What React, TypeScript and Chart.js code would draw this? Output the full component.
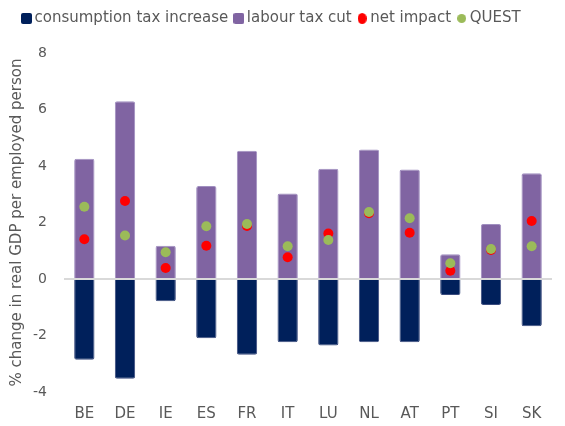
import React, { useEffect, useRef } from "react";
import { Chart, registerables } from "chart.js";

Chart.register(...registerables);

const categories = ["BE", "DE", "IE", "ES", "FR", "IT", "LU", "NL", "AT", "PT", "SI", "SK"];
const consumptionTaxIncrease = [-2.86, -3.53, -0.79, -2.1, -2.68, -2.24, -2.35, -2.24, -2.24, -0.57, -0.92, -1.67];
const labourTaxCut = [4.26, 6.29, 1.18, 3.29, 4.54, 3.03, 3.9, 4.58, 3.88, 0.88, 1.95, 3.74];
const netImpact = [1.41, 2.76, 0.39, 1.18, 1.88, 0.77, 1.61, 2.33, 1.64, 0.29, 1.03, 2.05];
const quest = [2.56, 1.54, 0.95, 1.87, 1.95, 1.16, 1.38, 2.37, 2.15, 0.56, 1.06, 1.16];
const yTicks = [-4, -2, 0, 2, 4, 6, 8];

const FONT = "'DejaVu Sans', Verdana, sans-serif";
const GRAY = "#595959";
const NAVY = "#00205B";
const PURPLE = "#8064A2";
const RED = "#FF0000";
const GREEN = "#9BBB59";

function makeSquare(color: string) {
  const c = document.createElement("canvas");
  c.width = 11;
  c.height = 11;
  const ctx = c.getContext("2d")!;
  ctx.fillStyle = color;
  ctx.beginPath();
  (ctx as any).roundRect(0, 0, 11, 11, 2);
  ctx.fill();
  return c;
}
function makeDot(color: string, w: number, h: number) {
  const c = document.createElement("canvas");
  c.width = w;
  c.height = h;
  const ctx = c.getContext("2d")!;
  ctx.fillStyle = color;
  ctx.beginPath();
  ctx.ellipse(w / 2, h / 2, w / 2, h / 2, 0, 0, Math.PI * 2);
  ctx.fill();
  return c;
}

export default function App() {
  const ref = useRef<HTMLCanvasElement | null>(null);
  useEffect(() => {
    if (!ref.current) return;
    const markers = [makeSquare(NAVY), makeSquare(PURPLE), makeDot(RED, 9, 11), makeDot(GREEN, 9, 9)];
    const legendLayout = {
      id: "legendLayout",
      beforeInit(chart: any) {
        const legend = chart.legend;
        if (legend) {
          const orig = legend.fit;
          legend.fit = function () {
            orig.call(this);
            this.height = 52;
          };
        }
      },
      afterLayout(chart: any) {
        const legend = chart.legend;
        if (legend) {
          const w = legend.right - legend.left;
          legend.left = 16;
          legend.right = 16 + w;
        }
      },
    };
    const chart = new Chart(ref.current, {
      type: "bar",
      data: {
        labels: categories,
        datasets: [
          {
            type: "bar",
            label: "consumption tax increase",
            data: consumptionTaxIncrease,
            backgroundColor: NAVY,
            borderColor: "#3A4B7E",
            borderWidth: 1,
            borderRadius: 2,
            borderSkipped: "start",
            barPercentage: 0.5,
            categoryPercentage: 1,
            order: 3,
          },
          {
            type: "bar",
            label: "labour tax cut",
            data: labourTaxCut,
            backgroundColor: PURPLE,
            borderColor: "#A08FC0",
            borderWidth: 1,
            borderRadius: 2,
            borderSkipped: "start",
            barPercentage: 0.5,
            categoryPercentage: 1,
            order: 2,
          },
          {
            type: "line",
            label: "net impact",
            data: netImpact,
            showLine: false,
            pointRadius: 5,
            pointBorderWidth: 0,
            pointBackgroundColor: RED,
            backgroundColor: RED,
            borderColor: RED,
            order: 1,
          },
          {
            type: "line",
            label: "QUEST",
            data: quest,
            showLine: false,
            pointRadius: 5,
            pointBorderWidth: 0,
            pointBackgroundColor: GREEN,
            backgroundColor: GREEN,
            borderColor: GREEN,
            order: 0,
          },
        ],
      },
      options: {
        responsive: true,
        maintainAspectRatio: false,
        animation: false,
        layout: { padding: { left: 4, right: 13, top: 1, bottom: 3 } },
        plugins: {
          tooltip: { enabled: false },
          legend: {
            position: "top",
            align: "start",
            labels: {
              color: GRAY,
              font: { family: FONT, size: 15 },
              usePointStyle: true,
              boxWidth: 1,
              boxHeight: 11,
              padding: 10,
              generateLabels: (c: any) => {
                const items = Chart.defaults.plugins.legend.labels.generateLabels(c);
                items.sort((a: any, b: any) => a.datasetIndex - b.datasetIndex);
                return items.map((it: any) => ({
                  ...it,
                  pointStyle: markers[it.datasetIndex],
                  lineWidth: 0,
                  strokeStyle: "rgba(0,0,0,0)",
                  fontColor: GRAY,
                }));
              },
            },
          },
        },
        scales: {
          x: {
            stacked: true,
            grid: { display: false },
            border: { display: false },
            ticks: { color: GRAY, font: { family: FONT, size: 15 }, padding: 5 },
            afterFit: (axis: any) => {
              axis.height = 31;
            },
          },
          y: {
            stacked: false,
            min: -4,
            max: 8,
            afterBuildTicks: (axis: any) => {
              axis.ticks = yTicks.map((v) => ({ value: v }));
            },
            afterFit: (axis: any) => {
              axis.width = 60;
            },
            grid: {
              z: 1,
              drawTicks: false,
              color: (ctx: any) => (ctx.tick && ctx.tick.value === 0 ? "#D9D9D9" : "rgba(0,0,0,0)"),
              lineWidth: 2,
            },
            border: { display: false },
            ticks: { color: GRAY, font: { family: FONT, size: 14 }, padding: 17 },
            title: {
              display: true,
              text: "% change in real GDP per employed person",
              color: GRAY,
              font: { family: FONT, size: 15 },
              padding: { top: 4, bottom: 6 },
            },
          },
        },
      },
      plugins: [legendLayout],
    });
    return () => chart.destroy();
  }, []);
  return (
    <div style={{ position: "absolute", left: 0, top: 0, width: 565, height: 426 }}>
      <canvas ref={ref} />
    </div>
  );
}
